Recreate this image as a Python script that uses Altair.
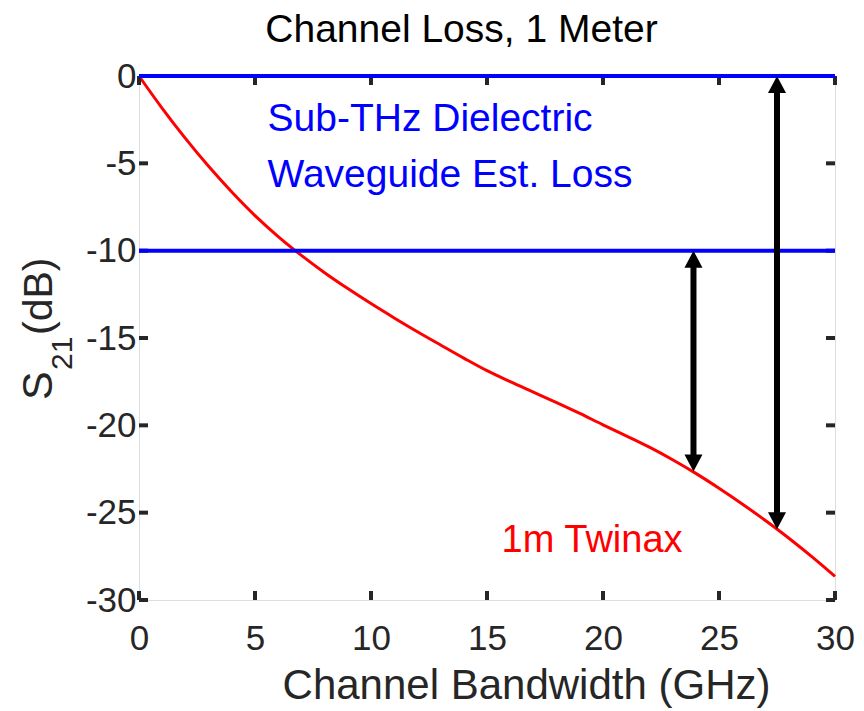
import altair as alt
import pandas as pd

# ---- data ----
freq_ghz = [0, 1, 2, 3, 4, 5, 6, 7, 8, 9, 10, 11, 12, 13, 14, 15, 16, 17, 18, 19, 20,
            21, 22, 23, 24, 25, 26, 27, 28, 29, 30]
s21_db = [0, -1.85, -3.57, -5.17, -6.64, -7.99, -9.19, -10.27, -11.26, -12.17, -13.03,
          -13.85, -14.64, -15.40, -16.15, -16.87, -17.5, -18.1, -18.7, -19.32, -19.97,
          -20.6, -21.25, -21.97, -22.75, -23.6, -24.5, -25.45, -26.45, -27.52, -28.65]
ref_levels = [0, -10]
arrow_x = [23.9, 27.5]
arrow_top = [-10, 0]
arrow_bottom = [-22.65, -25.95]
x_ticks = [0, 5, 10, 15, 20, 25, 30]
y_ticks = [-30, -25, -20, -15, -10, -5, 0]

W, H = 696, 524
AX = "#262626"
REG = "Liberation Sans, Arial, Helvetica, sans-serif"

curve_df = pd.DataFrame({"f": freq_ghz, "s": s21_db})
ref_df = pd.DataFrame({"lvl": ref_levels})
arr_df = pd.DataFrame({"x": arrow_x, "top": arrow_top, "bot": arrow_bottom})
xt_df = pd.DataFrame({"v": x_ticks})
yt_df = pd.DataFrame({"v": y_ticks})

xs = alt.Scale(domain=[0, 30], nice=False, zero=False)
ys = alt.Scale(domain=[-30, 0], nice=False, zero=False)

x_axis = alt.Axis(values=x_ticks, title="Channel Bandwidth (GHz)", grid=False, domain=False,
                  tickSize=0, labelPadding=21, labelFontSize=35, labelFont=REG, labelColor=AX,
                  labelExpr="'' + datum.value",
                  titleFont=REG, titleFontSize=42, titleColor=AX, titleFontWeight="normal",
                  titleX=387, titleY=98, titleBaseline="alphabetic", titleAlign="center",
                  labelFlush=False, labelOverlap=False)
y_axis = alt.Axis(values=y_ticks, title=None, grid=False, domain=False, tickSize=0,
                  labelPadding=3, labelFontSize=35, labelFont=REG, labelColor=AX,
                  labelExpr="'' + datum.value",
                  labelFlush=False, labelOverlap=False)

base_x = alt.X("f:Q", scale=xs, axis=x_axis)
base_y = alt.Y("s:Q", scale=ys, axis=y_axis)

curve = alt.Chart(curve_df).mark_line(color="#ff0000", strokeWidth=3, interpolate="monotone").encode(
    x=base_x, y=base_y)

refs = alt.Chart(ref_df).mark_rule(color="#0000ff", strokeWidth=4).encode(
    y=alt.Y("lvl:Q", scale=ys), x=alt.datum(0), x2=alt.datum(30))

shafts = alt.Chart(arr_df).mark_rule(color="black", strokeWidth=6, strokeCap="butt",
                                     yOffset=12, y2Offset=-12).encode(
    x=alt.X("x:Q", scale=xs), y=alt.Y("top:Q", scale=ys), y2="bot:Q")
head_up = alt.Chart(arr_df).mark_point(shape="M0,0 L0.9,1.7 L-0.9,1.7 Z", size=400, filled=True,
                                       color="black", opacity=1, strokeWidth=0).encode(
    x=alt.X("x:Q", scale=xs), y=alt.Y("top:Q", scale=ys))
head_dn = alt.Chart(arr_df).mark_point(shape="M0,0 L-0.9,-1.7 L0.9,-1.7 Z", size=400, filled=True,
                                       color="black", opacity=1, strokeWidth=0).encode(
    x=alt.X("x:Q", scale=xs), y=alt.Y("bot:Q", scale=ys))

blue_txt = alt.Chart(pd.DataFrame({"t": ["Sub-THz Dielectric\nWaveguide Est. Loss"]})).mark_text(
    align="left", baseline="alphabetic", font=REG, fontSize=39, color="#0000ff",
    lineBreak="\n", lineHeight=56).encode(
    x=alt.datum(5.54, scale=xs), y=alt.datum(-3.15, scale=ys), text="t:N")
red_txt = alt.Chart(pd.DataFrame({"t": ["1m Twinax"]})).mark_text(
    align="left", baseline="alphabetic", font=REG, fontSize=38, color="#ff0000").encode(
    x=alt.datum(15.63, scale=xs), y=alt.datum(-27.23, scale=ys), text="t:N")

# chart title, placed above the plot area
title_txt = alt.Chart(pd.DataFrame({"t": ["Channel Loss, 1 Meter"]})).mark_text(
    align="center", baseline="alphabetic", font=REG, fontSize=39, color="black").encode(
    x=alt.value(322.5), y=alt.value(-34), text="t:N")

# y-axis title S21 (dB), built from rotated pieces
ytitle_S = alt.Chart(pd.DataFrame({"t": ["S"]})).mark_text(
    angle=270, align="left", baseline="alphabetic", font=REG, fontSize=43, color=AX).encode(
    x=alt.value(-87), y=alt.value(324), text="t:N")
ytitle_sub = alt.Chart(pd.DataFrame({"t": ["21"]})).mark_text(
    angle=270, align="left", baseline="alphabetic", font=REG, fontSize=30, color=AX).encode(
    x=alt.value(-67), y=alt.value(294), text="t:N")
ytitle_db = alt.Chart(pd.DataFrame({"t": ["(dB)"]})).mark_text(
    angle=270, align="left", baseline="alphabetic", font=REG, fontSize=41, color=AX).encode(
    x=alt.value(-87), y=alt.value(259), text="t:N")

# inward ticks on all four sides
tk = dict(color=AX, strokeWidth=4)
xt_bot = alt.Chart(xt_df).mark_rule(**tk).encode(x=alt.X("v:Q", scale=xs), y=alt.value(H), y2=alt.value(H - 9))
xt_top = alt.Chart(xt_df).mark_rule(**tk).encode(x=alt.X("v:Q", scale=xs), y=alt.value(0), y2=alt.value(9))
yt_l = alt.Chart(yt_df).mark_rule(**tk).encode(y=alt.Y("v:Q", scale=ys), x=alt.value(0), x2=alt.value(9))
yt_r = alt.Chart(yt_df).mark_rule(**tk).encode(y=alt.Y("v:Q", scale=ys), x=alt.value(W), x2=alt.value(W - 9))

chart = alt.layer(
    curve, xt_bot, xt_top, yt_l, yt_r, refs, shafts, head_up, head_dn,
    blue_txt, red_txt, title_txt, ytitle_S, ytitle_sub, ytitle_db
).properties(
    width=W, height=H,
    autosize=alt.AutoSizeParams(type="none"),
    padding={"left": 139, "top": 76, "right": 29, "bottom": 111},
).configure_view(stroke=AX, strokeWidth=4.5).configure(background="white")

chart.save("out.html", embed_options={"renderer": "svg", "actions": False})
